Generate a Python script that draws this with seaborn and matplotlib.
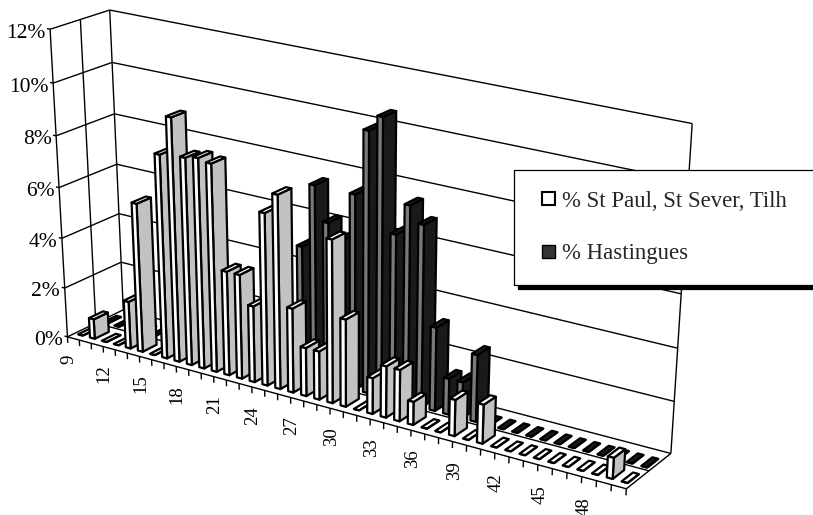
import numpy as np
import matplotlib
matplotlib.use("Agg")
import matplotlib.pyplot as plt
import matplotlib.patches as mpatches
from matplotlib.legend_handler import HandlerPatch
from mpl_toolkits.mplot3d import proj3d
from mpl_toolkits.mplot3d.art3d import Line3DCollection
import seaborn as sns

categories = list(range(9, 51))
tick_labels = [str(c) if (c - 9) % 3 == 0 else "" for c in categories]
st_paul = [0, 0.8, 0, 0, 1.9, 5.9, 0, 8.0, 9.5, 8.1, 8.2, 8.1, 4.1, 4.1, 3.0, 6.7, 7.5, 3.3, 1.9, 1.9,
           6.3, 3.4, 0, 1.4, 2.0, 2.0, 0.9, 0, 0, 1.4, 0, 1.5, 0, 0, 0, 0, 0, 0, 0, 0, 0.8, 0]
hastingues = [0, 0, 0, 0, 0, 0, 0, 0, 0, 0, 0, 0, 0, 0, 0, 0, 5.1, 7.55, 6.25, 5.7, 7.55, 10.0, 10.6, 6.4,
              7.6, 7.0, 3.25, 1.4, 1.4, 2.6, 0, 0, 0, 0, 0, 0, 0, 0, 0, 0, 0, 0]
y_ticks = [0, 2, 4, 6, 8, 10, 12]
series_names = ["% St Paul, St Sever, Tilh", "% Hastingues"]

sns.set_theme(style="white")
plt.rcParams["font.family"] = ["Liberation Serif", "DejaVu Serif"]
W, H = 813, 515
N = len(categories)

# Camera: solved from where the chart box corners sit in the picture.
anchors = [((0, 0, 0), (68, 338)), ((42, 0, 0), (628, 488)), ((0, 1, 0), (124, 310)),
           ((42, 1, 0), (671, 453)), ((0, 0, 12), (51, 29)), ((0, 1, 12), (109, 9)),
           ((42, 1, 12), (692, 125)), ((21, 0, 0), (327, 408))]
A, b = [], []
for (X, Y, Z), (u, v) in anchors:
    v = H - v
    A.append([X, Y, Z, 1, 0, 0, 0, 0, -u * X, -u * Y, -u * Z]); b.append(u)
    A.append([0, 0, 0, 0, X, Y, Z, 1, -v * X, -v * Y, -v * Z]); b.append(v)
p = np.linalg.lstsq(np.array(A, float), np.array(b, float), rcond=None)[0]
M = np.array([p[:4], p[4:8], [0, 0, 0, -1.0], [p[8], p[9], p[10], 1.0]])

fig = plt.figure(figsize=(W / 100, H / 100), dpi=100)
ax = fig.add_axes([0, 0, 1, 1], projection="3d", computed_zorder=False)
ax.set_xticks([]); ax.set_yticks([]); ax.set_zticks([])
ax.set_axis_off()
ax.get_proj = lambda: M
ax.apply_aspect = lambda position=None: None
ax.patch.set_visible(False)

def label(x, y, z, text, **kw):
    px, py, _ = proj3d.proj_transform(x, y, z, M)
    ax.text2D(px, py, text, transform=ax.transData, color="black", **kw)

segments = []
for v in y_ticks:
    segments.append([(0, 1, v), (N, 1, v)])
    segments.append([(0, 0, v), (0, 1, v)])
    segments.append([(-0.25, 0, v), (0, 0, v)])
    label(-0.4, 0, v - 0.2, f"{v}%", ha="right", va="center", fontsize=15.5)
for x_, y_ in [(0, 0), (0, 0.5), (0, 1), (N, 1)]:
    segments.append([(x_, y_, 0), (x_, y_, y_ticks[-1])])
segments.append([(0, 0, 0), (N, 0, 0)])
segments.append([(0, 0.5, 0), (N, 0.5, 0)])
segments.append([(N, 0, 0), (N, 1, 0)])
for i in range(N + 1):
    segments.append([(i, 0, 0), (i, 0, -0.25)])
ax.add_collection3d(Line3DCollection(segments, colors="black", linewidths=1.0, zorder=1))

for i, lab in enumerate(tick_labels):
    if lab:
        label(i + 0.5, -0.1, -0.56, lab, rotation=90, ha="center", va="top", fontsize=13.5)

none = (0, 0, 0, 0)
def rgba(c):
    return matplotlib.colors.to_rgba(c)

def bars(values, y0, front, side, top):
    # bar3d face order: bottom, top, -y, +y, -x, +x; only the three seen faces are painted
    for i, val in enumerate(values):
        faces = [none, rgba(top), rgba(front), none, none, rgba(side)]
        edges = [none, rgba("black"), rgba("black"), none, none, rgba("black")]
        ax.bar3d(i + 0.3, y0, 0, 0.4, 0.25, val, color=faces, edgecolors=edges,
                 linewidths=1.6, shade=False, zorder=2)

hast_colors = ["#7a7a7a", "#1a1a1a", "#1a1a1a"]
paul_colors = ["#ffffff", "#c2c2c2", "#ffffff"]
bars(hastingues, 0.56, *hast_colors)
bars(st_paul, 0.125, *paul_colors)

def square(legend, orig_handle, xdescent, ydescent, width, height, fontsize):
    side = 13 * 0.72
    return mpatches.Rectangle((width - side - xdescent, (height - side) / 2 - ydescent), side, side)

handles = [mpatches.Patch(facecolor="white", edgecolor="black", lw=1.5, label=series_names[0]),
           mpatches.Patch(facecolor="#333333", edgecolor="black", lw=1.0, label=series_names[1])]
leg = ax.legend(handles=handles, loc="upper left", mode="expand",
                bbox_to_anchor=(514 / W, 1 - 283 / H, 315 / W, 113 / H),
                bbox_transform=fig.transFigure, fontsize=16.4, fancybox=False, framealpha=1,
                edgecolor="black", borderpad=0.9, labelspacing=1.4, handlelength=0.88,
                handleheight=0.7, handletextpad=0.33, borderaxespad=0,
                handler_map={mpatches.Patch: HandlerPatch(patch_func=square)},
                shadow={"color": "black", "alpha": 1, "ox": 3, "oy": -3})
leg.get_frame().set_linewidth(0.9)
ax.viewLim.intervalx = (0, W)
ax.viewLim.intervaly = (0, H)
fig.savefig("out.png", dpi=100, facecolor="white")
